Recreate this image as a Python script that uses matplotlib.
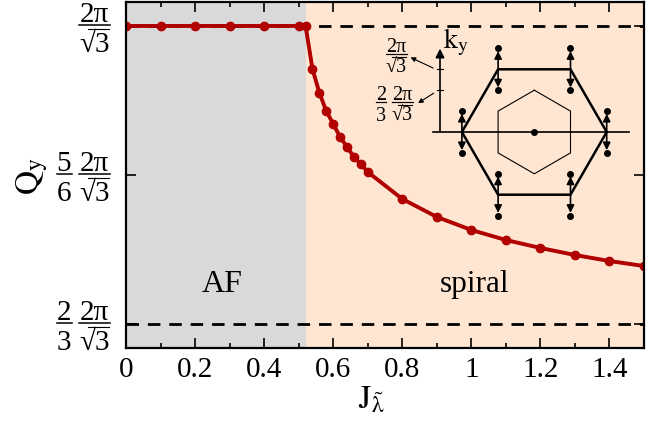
import numpy as np
import matplotlib
matplotlib.use("Agg")
import matplotlib.pyplot as plt
from matplotlib.lines import Line2D

plt.rcParams["font.family"] = ["Liberation Serif", "DejaVu Serif"]
plt.rcParams["mathtext.fontset"] = "stix"

# Q_y is in units of 2pi/sqrt(3)
j_values = [0, 0.1, 0.2, 0.3, 0.4, 0.5, 0.52, 0.54, 0.56, 0.58, 0.6, 0.62, 0.64, 0.66,
            0.68, 0.7, 0.8, 0.9, 1.0, 1.1, 1.2, 1.3, 1.4, 1.5]
q_values = [1, 1, 1, 1, 1, 1, 1, 0.9519, 0.9251, 0.9049, 0.8904, 0.8758, 0.8647, 0.8535,
            0.8456, 0.8367, 0.8065, 0.7864, 0.7718, 0.7606, 0.7517, 0.7438, 0.7371, 0.7315]
j_boundary = 0.52

x_major = [0, 0.2, 0.4, 0.6, 0.8, 1.0, 1.2, 1.4]
x_labels = ["0", "0.2", "0.4", "0.6", "0.8", "1", "1.2", "1.4"]
y_major = [2 / 3, 5 / 6, 1]
y_prefix = [("2", "3"), ("5", "6"), None]

W, H = 664, 421
red = "#b00000"

fig = plt.figure(figsize=(W / 100, H / 100), dpi=100)


def frac(xc, bar_y, num, den, size, bar_w, root=False):
    # stacked fraction placed in picture pixels, mathtext ones come out too wide
    k = size / 21
    fig.text(xc / W, 1 - (bar_y - 3 * k) / H, num, fontsize=size, ha="center", va="baseline")
    fig.text(xc / W, 1 - (bar_y + 27 * k) / H, den, fontsize=size, ha="center", va="baseline")
    fig.add_artist(Line2D([(xc - bar_w / 2) / W, (xc + bar_w / 2) / W], [1 - bar_y / H] * 2,
                          color="black", lw=1.1 * max(k, 0.8)))
    if root:
        # vinculum of the square root, just under the fraction bar
        y = 1 - (bar_y + 4 * k) / H
        fig.add_artist(Line2D([(xc - 0.2 * bar_w) / W, (xc + 0.45 * bar_w) / W], [y, y],
                              color="black", lw=0.8))


ax = fig.add_axes([126 / W, 1 - 348 / H, 518 / W, 346 / H])

ax.axvspan(0, j_boundary, color="#d9d9d9", lw=0, zorder=0)
ax.axvspan(j_boundary, 1.5, color="#ffe6d2", lw=0, zorder=0)
ax.axhline(1, color="black", lw=2, dashes=(4.5, 3.2), zorder=1)
ax.axhline(2 / 3, color="black", lw=2, dashes=(4.5, 3.2), zorder=1)
ax.plot(j_values, q_values, c=red, lw=2.8, marker="o", ms=6, zorder=2)

ax.set_xlim(0, 1.5)
ax.set_ylim(0.6398, 1.0268)
ax.set_xticks(x_major)
ax.set_xticklabels(x_labels)
ax.set_xticks(np.arange(0.1, 1.5, 0.2), minor=True)
ax.set_yticks(y_major)
ax.set_yticklabels([])
ax.tick_params(axis="both", which="major", direction="in", top=True, right=True,
               length=7, width=1.2, labelsize=21)
ax.tick_params(axis="x", which="minor", direction="in", top=True, length=3.5, width=1.2)
ax.tick_params(axis="x", which="major", pad=6.5)
for side in ax.spines.values():
    side.set_linewidth(1.6)

# y tick labels
for value, prefix in zip(y_major, y_prefix):
    bar_y = ax.transData.transform((0, value))[1]
    bar_y = H - bar_y - 1
    frac(94.5, bar_y, "2π", "√3", 21, 32, root=True)
    if prefix:
        frac(64, bar_y, prefix[0], prefix[1], 21, 15)

fig.text(32 / W, 1 - 176 / H, r"$\mathrm{Q}_{\mathrm{y}}$", fontsize=24, rotation=90,
         ha="center", va="center")
fig.text(371 / W, 1 - 400 / H, r"$\mathrm{J}_{\mathrm{\tilde{\lambda}}}$", fontsize=24,
         ha="center", va="center")
ax.text(0.278, 0.7103, "AF", fontsize=23, ha="center", va="center")
ax.text(1.01, 0.7103, "spiral", fontsize=22.5, ha="center", va="center")

# brillouin zone sketch, 1 unit = 2pi/sqrt(3)
px = 62.7
cx, cy = 534.3, 132
left, right, top, bottom = 380, 640, 30, 225
inset = fig.add_axes([left / W, 1 - bottom / H, (right - left) / W, (bottom - top) / H])
inset.set_xlim((left - cx) / px, (right - cx) / px)
inset.set_ylim((cy - bottom) / px, (cy - top) / px)
inset.axis("off")
inset.patch.set_alpha(0)

R = 2 / np.sqrt(3)
ang = np.radians(np.arange(0, 361, 60))
outer_x, outer_y = R * np.cos(ang), R * np.sin(ang)
inset.plot(outer_x, outer_y, c="black", lw=1.8)
inset.plot(2 / 3 * np.sin(ang), 2 / 3 * np.cos(ang), c="black", lw=0.8)
inset.plot([(433 - cx) / px, (629 - cx) / px], [0, 0], c="black", lw=1.2)
inset.plot([0], [0], "o", c="black", ms=4)

# Q vectors at the zone corners
for vx, vy in zip(outer_x[:-1], outer_y[:-1]):
    for s in (1, -1):
        end = (vx, vy + s / 3)
        inset.annotate("", xy=(vx, vy + s * 0.29), xytext=(vx, vy),
                       arrowprops=dict(arrowstyle="-|>", color="black", lw=1.2,
                                       shrinkA=0, shrinkB=0, mutation_scale=11))
        inset.plot(*end, "o", c="black", ms=4)

# k_y axis
ax_x = (440 - cx) / px
inset.annotate("", xy=(ax_x, 1.33), xytext=(ax_x, 0),
               arrowprops=dict(arrowstyle="-|>", color="black", lw=1.2,
                               shrinkA=0, shrinkB=0, mutation_scale=13))
for tick in (2 / 3, 1):
    inset.plot([ax_x - 0.055, ax_x + 0.055], [tick, tick], c="black", lw=0.8)
inset.text(ax_x + 0.04, 1.43, r"$\mathrm{k}_{\mathrm{y}}$", fontsize=20, ha="left", va="center")
frac(396.5, 54, "2π", "√3", 14.5, 21, root=True)
frac(381, 102, "2", "3", 14.5, 10)
frac(402.5, 102, "2π", "√3", 14.5, 21, root=True)
inset.annotate("", xy=(ax_x - 0.47, 1.19), xytext=(ax_x - 0.11, 1.02),
               arrowprops=dict(arrowstyle="-|>", color="black", lw=0.8,
                               shrinkA=0, shrinkB=0, mutation_scale=7))
inset.annotate("", xy=(ax_x - 0.35, 0.46), xytext=(ax_x - 0.1, 0.62),
               arrowprops=dict(arrowstyle="-|>", color="black", lw=0.8,
                               shrinkA=0, shrinkB=0, mutation_scale=7))

fig.savefig("out.png", dpi=100)
